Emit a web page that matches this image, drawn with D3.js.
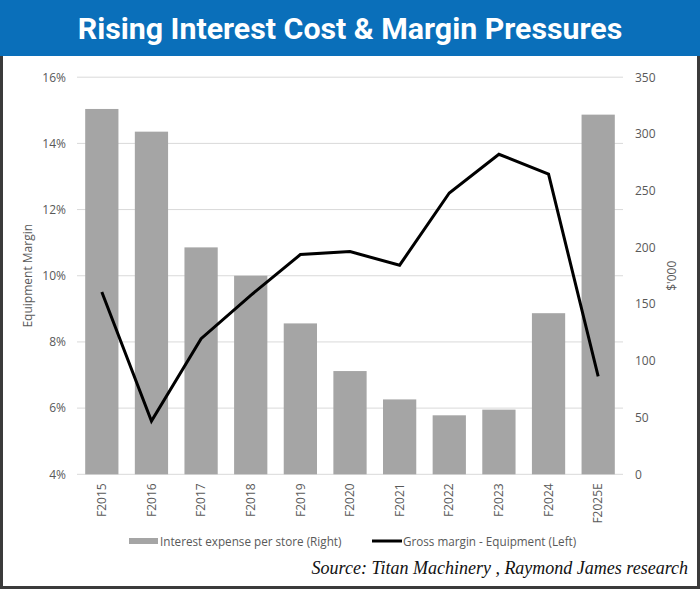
<!DOCTYPE html>
<html>
<head>
<meta charset="utf-8">
<script src="https://cdn.jsdelivr.net/npm/d3@7"></script>
<style>
  html, body { margin: 0; padding: 0; background: #fff; }
  svg { display: block; }
</style>
</head>
<body>
<svg id="chart" width="700" height="589"></svg>
<script>
const categories = ["F2015","F2016","F2017","F2018","F2019","F2020","F2021","F2022","F2023","F2024","F2025E"];
const interestPerStore = [322, 302, 200, 175, 133, 91, 66, 52, 57, 142, 317];
const grossMarginEquip = [0.0951, 0.0561, 0.0810, 0.0941, 0.1064, 0.1073, 0.1032, 0.1250, 0.1367, 0.1307, 0.0696];
const leftTicks = [0.04, 0.06, 0.08, 0.10, 0.12, 0.14, 0.16];
const rightTicks = [0, 50, 100, 150, 200, 250, 300, 350];
const titleText = "Rising Interest Cost & Margin Pressures";
const legendBar = "Interest expense per store (Right)";
const legendLine = "Gross margin - Equipment (Left)";
const sourceText = "Source: Titan Machinery , Raymond James research";

const W = 700, H = 589;
const plot = { left: 77, right: 623, top: 77.2, bottom: 474.3 };
const svg = d3.select("#chart");
const axisFont = "'Open Sans', 'Noto Sans', sans-serif";
const textColor = "#595959";

// Frame
svg.append("rect").attr("x", 1.5).attr("y", 1.5).attr("width", W - 3).attr("height", H - 3)
  .attr("fill", "none").attr("stroke", "#3b3b3b").attr("stroke-width", 3);

// Title band
svg.append("rect").attr("x", 0).attr("y", 0).attr("width", W).attr("height", 56).attr("fill", "#0a6fba");
svg.append("text")
  .attr("x", W / 2).attr("y", 28)
  .attr("text-anchor", "middle").attr("dominant-baseline", "central")
  .attr("fill", "#fff")
  .style("font-family", "'Liberation Sans Narrow', 'Roboto', sans-serif")
  .style("font-weight", "bold")
  .style("font-size", "30.3px")
  .text(titleText);

const x = d3.scaleBand().domain(categories).range([plot.left, plot.right]).paddingInner(0.33).paddingOuter(0.165);
const yL = d3.scaleLinear().domain([0.04, 0.16]).range([plot.bottom, plot.top]);
const yR = d3.scaleLinear().domain([0, 350]).range([plot.bottom, plot.top]);

// Gridlines
svg.append("g").selectAll("line").data(leftTicks).join("line")
  .attr("x1", plot.left).attr("x2", plot.right)
  .attr("y1", d => yL(d)).attr("y2", d => yL(d))
  .attr("stroke", "#d9d9d9").attr("stroke-width", 1);

// Bars
svg.append("g").selectAll("rect").data(categories).join("rect")
  .attr("x", d => x(d)).attr("width", x.bandwidth())
  .attr("y", (d, i) => yR(interestPerStore[i]))
  .attr("height", (d, i) => yR(0) - yR(interestPerStore[i]))
  .attr("fill", "#a5a5a5");

// Line
const line = d3.line().x((d, i) => x(categories[i]) + x.bandwidth() / 2).y(d => yL(d));
svg.append("path").datum(grossMarginEquip).attr("d", line)
  .attr("fill", "none").attr("stroke", "#000").attr("stroke-width", 3).attr("stroke-linejoin", "miter");

// Left axis
const axL = d3.axisLeft(yL).tickValues(leftTicks).tickFormat(d3.format(".0%")).tickSize(0).tickPadding(11);
const gL = svg.append("g").attr("transform", `translate(${plot.left},0)`).call(axL);
gL.select(".domain").remove();
gL.selectAll("text").attr("fill", textColor).style("font-family", axisFont).style("font-size", "12px");

// Right axis
const axR = d3.axisRight(yR).tickValues(rightTicks).tickSize(0).tickPadding(12);
const gR = svg.append("g").attr("transform", `translate(${plot.right},0)`).call(axR);
gR.select(".domain").remove();
gR.selectAll("text").attr("fill", textColor).style("font-family", axisFont).style("font-size", "12px");

// X axis
const axX = d3.axisBottom(x).tickSize(0).tickPadding(0);
const gX = svg.append("g").attr("transform", `translate(0,${plot.bottom})`).call(axX);
gX.select(".domain").remove();
gX.selectAll("text")
  .attr("transform", "rotate(-90)")
  .attr("x", -9).attr("y", 0).attr("dy", "0.35em")
  .attr("text-anchor", "end")
  .attr("fill", textColor).style("font-family", axisFont).style("font-size", "12px");

// Axis titles
svg.append("text").attr("transform", `translate(27,${(plot.top + plot.bottom) / 2}) rotate(-90)`)
  .attr("text-anchor", "middle").attr("dominant-baseline", "central")
  .attr("fill", textColor).style("font-family", axisFont).style("font-size", "12px")
  .text("Equipment Margin");
svg.append("text").attr("transform", `translate(671,${(plot.top + plot.bottom) / 2}) rotate(-90)`)
  .attr("text-anchor", "middle").attr("dominant-baseline", "central")
  .attr("fill", textColor).style("font-family", axisFont).style("font-size", "12px")
  .text("$'000");

// Legend
const lg = svg.append("g").attr("transform", "translate(0,541)");
lg.append("rect").attr("x", 129).attr("y", -3).attr("width", 29).attr("height", 6).attr("fill", "#a5a5a5");
lg.append("text").attr("x", 160).attr("y", 0).attr("dominant-baseline", "central")
  .attr("fill", textColor).style("font-family", axisFont).style("font-size", "11.7px").text(legendBar);
lg.append("line").attr("x1", 372).attr("x2", 402).attr("y1", 0).attr("y2", 0).attr("stroke", "#000").attr("stroke-width", 3);
lg.append("text").attr("x", 403).attr("y", 0).attr("dominant-baseline", "central")
  .attr("fill", textColor).style("font-family", axisFont).style("font-size", "11.7px").text(legendLine);

// Source
svg.append("text").attr("x", 688).attr("y", 574).attr("text-anchor", "end")
  .attr("fill", "#111")
  .style("font-family", "'Liberation Serif', 'DejaVu Serif', serif")
  .style("font-style", "italic").style("font-size", "18px")
  .text(sourceText);
</script>
</body>
</html>
